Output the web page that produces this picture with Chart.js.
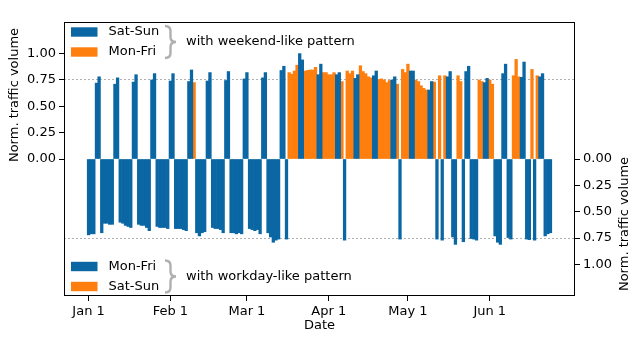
<!DOCTYPE html>
<html>
<head>
<meta charset="utf-8">
<script src="https://cdn.jsdelivr.net/npm/chart.js@4.4.0/dist/chart.umd.min.js"></script>
<style>
  html, body { margin: 0; padding: 0; background: #fff; }
  canvas { display: block; }
</style>
</head>
<body>
<canvas id="trafficChart" width="640" height="343"></canvas>
<script>
// day 0 = Wed, Jan 1 2020
const monthTicks = [0, 31, 60, 91, 121, 152];
const monthLabels = ['Jan 1', 'Feb 1', 'Mar 1', 'Apr 1', 'May 1', 'Jun 1'];
const volumeTicks = [0, 0.25, 0.5, 0.75, 1];

// normalised traffic volume, one value per day (week rows Mon..Sun)
const volume = [
                0.72, 0.71, 0.71, 0.72, 0.78,
  0.70, 0.61, 0.61, 0.62, 0.62, 0.71, 0.77,
  0.60, 0.61, 0.63, 0.64, 0.65, 0.73, 0.80,
  0.62, 0.63, 0.63, 0.65, 0.68, 0.75, 0.81,
  0.64, 0.65, 0.65, 0.65, 0.66, 0.74, 0.81,
  0.66, 0.66, 0.66, 0.67, 0.68, 0.735, 0.845,
  0.725, 0.70, 0.73, 0.70, 0.69, 0.74, 0.82,
  0.65, 0.66, 0.66, 0.67, 0.70, 0.745, 0.83,
  0.70, 0.70, 0.71, 0.70, 0.71, 0.76, 0.82,
  0.66, 0.67, 0.68, 0.67, 0.71, 0.77, 0.82,
  0.70, 0.74, 0.79, 0.77, 0.76, 0.84, 0.88,
  0.76, 0.82, 0.805, 0.835, 0.89, 1.00, 0.94,
  0.835, 0.84, 0.845, 0.845, 0.87, 0.80, 0.90,
  0.82, 0.82, 0.80, 0.80, 0.82, 0.80, 0.82,
  0.735, 0.77, 0.835, 0.81, 0.835, 0.765, 0.80,
  0.885, 0.83, 0.81, 0.78, 0.77, 0.79, 0.835,
  0.755, 0.76, 0.75, 0.725, 0.745, 0.75, 0.78,
  0.71, 0.76, 0.85, 0.82, 0.90, 0.835, 0.835,
  0.75, 0.735, 0.695, 0.67, 0.655, 0.655, 0.735,
  0.73, 0.76, 0.79, 0.77, 0.79, 0.78, 0.83,
  0.74, 0.81, 0.79, 0.735, 0.785, 0.83, 0.88,
  0.755, 0.76, 0.77, 0.75, 0.735, 0.725, 0.765,
  0.75, 0.71, 0.73, 0.79, 0.81, 0.81, 0.90,
  0.745, 0.76, 0.79, 0.945, 0.78, 0.775, 0.92,
  0.76, 0.765, 0.85, 0.77, 0.79, 0.78, 0.81,
  0.73, 0.71, 0.70
];

// w = weekend-like pattern, d = workday-like pattern
const pattern = [
  'dddww',
  'dddddww', 'dddddww', 'dddddww', 'dddddww', 'dddddww',
  'wddddww', 'dddddww', 'dddddww', 'dddddww', 'dddddww',
  'dwwwwww', 'wwwwwww', 'wwwwwww', 'wdwwwww', 'wwwwwww',
  'wwwwwww', 'wdwwwww', 'wwwwwww', 'wdwdwww', 'ddwwdww',
  'dddwwww', 'wwdddww', 'ddwwwww', 'ddwdwww',
  'ddd'
].join('');

const BLUE = '#0a67a3';
const ORANGE = '#ff7f0e';
const GRID = '#b0b0b0';

const isWeekend = d => (d + 2) % 7 >= 5;

function pick(kind, weekend, sign) {
    return volume
        .map((v, d) => ({ x: d, y: sign * v, keep: pattern[d] === kind && isWeekend(d) === weekend }))
        .filter(p => p.keep)
        .map(p => ({ x: p.x, y: p.y }));
}

const barStyle = {
    barPercentage: 1,
    categoryPercentage: 1,
    grouped: false,
    borderWidth: 0
};

const legendsAndTitles = {
    id: 'legendsAndTitles',
    afterDraw(chart) {
        const { ctx, chartArea: a } = chart;
        ctx.save();

        ctx.strokeStyle = '#000';
        ctx.lineWidth = 1;
        ctx.strokeRect(a.left + 0.5, a.top + 0.5, a.width - 1, a.height - 1);

        ctx.font = '13px "DejaVu Sans"';
        ctx.fillStyle = '#000';
        ctx.textBaseline = 'middle';

        const legend = (cy, rows, note) => {
            rows.forEach(([color, label], i) => {
                const y = cy + i * 20;
                ctx.fillStyle = color;
                ctx.fillRect(71, y - 4.7, 26.5, 9.4);
                ctx.fillStyle = '#000';
                ctx.textAlign = 'left';
                ctx.fillText(label, 108.5, y);
            });
            const top = cy - 6, bot = cy + 26, mid = cy + 10;
            const x0 = 165, xm = 170.5, x1 = 176;
            ctx.strokeStyle = GRID;
            ctx.lineWidth = 2.4;
            ctx.beginPath();
            ctx.moveTo(x0, top);
            ctx.quadraticCurveTo(xm, top, xm, top + 5);
            ctx.lineTo(xm, mid - 5);
            ctx.quadraticCurveTo(xm, mid, x1, mid);
            ctx.quadraticCurveTo(xm, mid, xm, mid + 5);
            ctx.lineTo(xm, bot - 5);
            ctx.quadraticCurveTo(xm, bot, x0, bot);
            ctx.stroke();
            ctx.fillStyle = '#000';
            ctx.fillText(note, 186, mid);
        };

        legend(a.top + 10, [[BLUE, 'Sat-Sun'], [ORANGE, 'Mon-Fri']], 'with weekend-like pattern');
        legend(a.bottom - 29.5, [[BLUE, 'Mon-Fri'], [ORANGE, 'Sat-Sun']], 'with workday-like pattern');

        ctx.textAlign = 'center';
        ctx.fillText('Date', (a.left + a.right) / 2, 326);

        ctx.save();
        ctx.translate(15, 95);
        ctx.rotate(-Math.PI / 2);
        ctx.fillText('Norm. traffic volume', 0, 0);
        ctx.restore();

        ctx.save();
        ctx.translate(625, 224);
        ctx.rotate(-Math.PI / 2);
        ctx.fillText('Norm. traffic volume', 0, 0);
        ctx.restore();

        ctx.restore();
    }
};

Chart.defaults.font.family = '"DejaVu Sans", sans-serif';
Chart.defaults.font.size = 13;
Chart.defaults.color = '#000';

const ctx = document.getElementById('trafficChart');

new Chart(ctx, {
    type: 'bar',
    data: {
        datasets: [
            { label: 'Sat-Sun (weekend-like)', data: pick('w', true, 1), backgroundColor: BLUE, ...barStyle },
            { label: 'Mon-Fri (weekend-like)', data: pick('w', false, 1), backgroundColor: ORANGE, ...barStyle },
            { label: 'Mon-Fri (workday-like)', data: pick('d', false, -1), backgroundColor: BLUE, ...barStyle },
            { label: 'Sat-Sun (workday-like)', data: pick('d', true, -1), backgroundColor: ORANGE, ...barStyle }
        ]
    },
    options: {
        responsive: false,
        animation: false,
        layout: { padding: { top: 22, left: 0, right: 0, bottom: 0 } },
        plugins: {
            legend: { display: false },
            tooltip: { enabled: false }
        },
        scales: {
            x: {
                type: 'linear',
                min: -9.3,
                max: 184.3,
                offset: false,
                afterBuildTicks: s => { s.ticks = monthTicks.map(v => ({ value: v })); },
                afterFit: s => { s.height = 47; },
                ticks: {
                    autoSkip: false,
                    maxRotation: 0,
                    padding: 3,
                    callback: v => monthLabels[monthTicks.indexOf(v)]
                },
                grid: { color: 'transparent', tickColor: '#000', tickLength: 5, offset: false },
                border: { display: false }
            },
            y: {
                position: 'left',
                min: -1.3,
                max: 1.3,
                z: 1,
                afterBuildTicks: s => { s.ticks = volumeTicks.map(v => ({ value: v })); },
                afterFit: s => { s.width = 64; },
                ticks: { padding: 3, callback: v => v.toFixed(2) },
                grid: {
                    color: c => (c.tick && c.tick.value === 0.75 ? GRID : 'transparent'),
                    tickColor: '#000',
                    tickLength: 5,
                    lineWidth: 1
                },
                border: { display: false, dash: [2, 2] }
            },
            y2: {
                position: 'right',
                min: -1.3,
                max: 1.3,
                z: 1,
                afterBuildTicks: s => { s.ticks = volumeTicks.map(v => ({ value: -v })); },
                afterFit: s => { s.width = 65; },
                ticks: { padding: 3, callback: v => Math.abs(v).toFixed(2) },
                grid: {
                    color: c => (c.tick && c.tick.value === -0.75 ? GRID : 'transparent'),
                    tickColor: '#000',
                    tickLength: 5,
                    lineWidth: 1
                },
                border: { display: false, dash: [2, 2] }
            }
        }
    },
    plugins: [legendsAndTitles]
});
</script>
</body>
</html>
